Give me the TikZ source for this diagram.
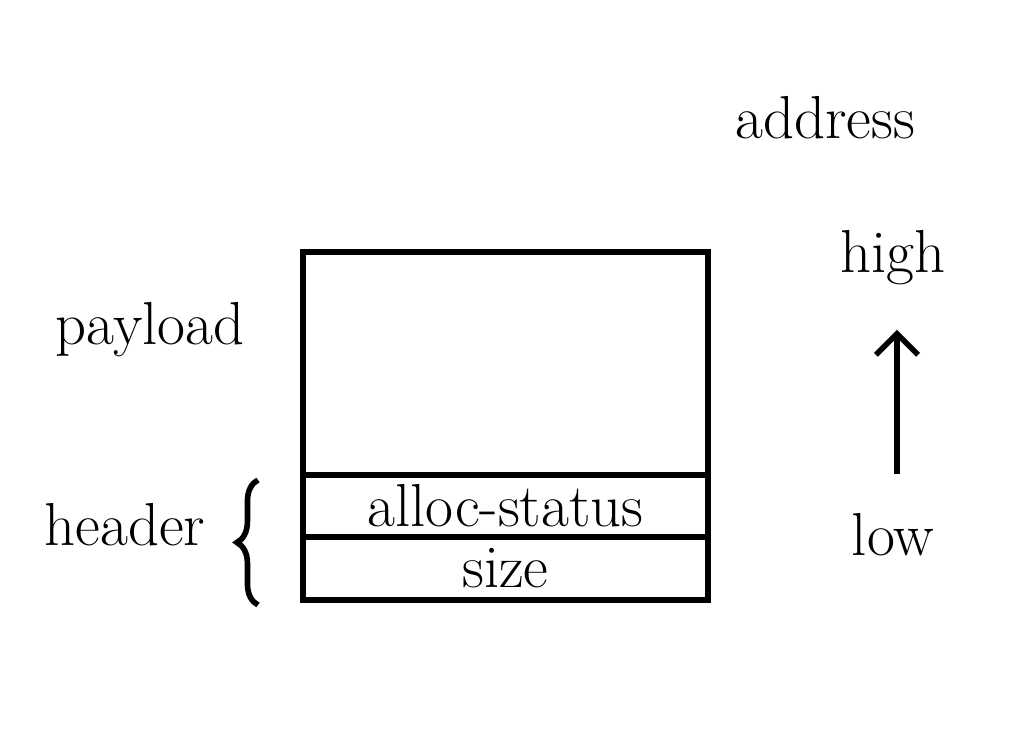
\documentclass[tikz,border=0pt]{standalone}
\usetikzlibrary{positioning, arrows.meta, decorations.pathreplacing}

\begin{document}
\begin{tikzpicture}[
    cell/.style={draw, line width=1.6pt, minimum width=4.05cm, outer sep=0pt,
                 inner sep=0pt, font=\LARGE},
    label/.style={font=\LARGE},
    every path/.style={line width=1.6pt}]
    % Diagram: a heap block, header (size, alloc-status) below payload.
    % Coordinates: (x, y)
    %   block from x=3.03 to 7.08, y=1.40 to 4.88
    %   brace at x=2.58, arrow at x=8.97
    \useasboundingbox (0,0) rectangle (10.30,7.40);
    \node[cell, minimum height=2.23cm] (payblk) at (5.055,3.765) {};
    \node[cell, minimum height=0.62cm, below=0pt of payblk] (allocblk) {alloc-status};
    \node[cell, minimum height=0.63cm, below=0pt of allocblk] (sizeblk) {size};
    \node[label] (payload) at (1.50,4.10) {payload};
    \node[label] (header) at (1.25,2.15) {header};
    \draw[decorate, decoration={brace, amplitude=6pt}]
      ([xshift=-0.45cm,yshift=-0.05cm]sizeblk.south west)
      -- ([xshift=-0.45cm,yshift=-0.05cm]allocblk.north west);
    \node[label] (address) at (8.25,6.22) {address};
    \node[label] (high) at (8.93,4.82) {high};
    \node[label] (low) at (8.93,2.05) {low};
    \draw[-{Straight Barb[length=6pt, width=12pt]}]
      ([xshift=0.04cm, yshift=0.25cm]low.north) -- ([xshift=0.04cm, yshift=-0.3cm]high.south);
  \end{tikzpicture}
\end{document}
